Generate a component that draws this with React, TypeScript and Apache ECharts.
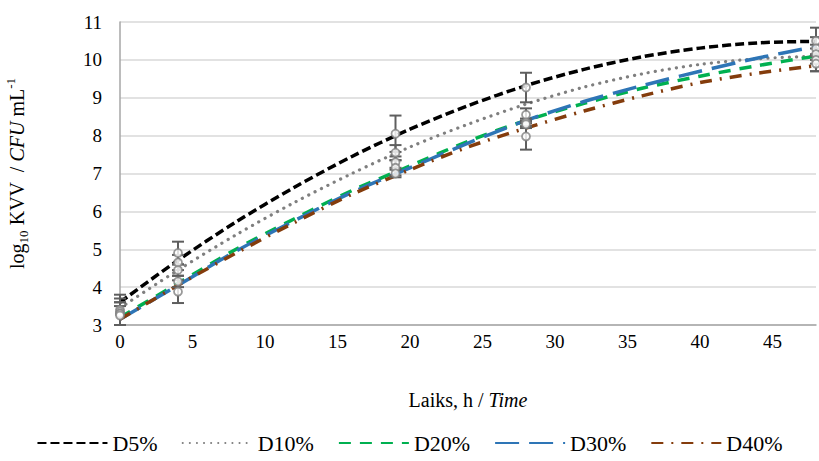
import React, { useEffect, useRef } from 'react';
import * as echarts from 'echarts';

// Fitted growth curves (log10 CFU/mL) sampled along the time axis, hours
const trendTimes = [0, 4, 8, 12, 16, 20, 24, 28, 32, 36, 40, 44, 48];
const trendD5 = [3.6, 4.71, 5.72, 6.63, 7.45, 8.17, 8.79, 9.32, 9.75, 10.08, 10.31, 10.45, 10.49];
const trendD10 = [3.45, 4.45, 5.38, 6.23, 7.0, 7.7, 8.3, 8.83, 9.28, 9.63, 9.88, 10.03, 10.1];
const trendD20 = [3.2, 4.1, 5.0, 5.8, 6.55, 7.2, 7.85, 8.4, 8.85, 9.25, 9.57, 9.85, 10.1];
const trendD30 = [3.15, 4.05, 4.95, 5.75, 6.5, 7.15, 7.8, 8.4, 8.9, 9.32, 9.7, 10.05, 10.35];
const trendD40 = [3.15, 4.05, 4.9, 5.7, 6.45, 7.1, 7.7, 8.2, 8.65, 9.05, 9.4, 9.65, 9.85];

// Measured means and standard deviations at the sampling times
const sampleTimes = [0, 4, 19, 28, 48];
const meanD5 = [3.4, 4.9, 8.05, 9.27, 10.5];
const sdD5 = [0.4, 0.3, 0.48, 0.39, 0.35];
const meanD10 = [3.35, 4.65, 7.55, 8.55, 10.3];
const sdD10 = [0.35, 0.2, 0.2, 0.17, 0.3];
const meanD20 = [3.3, 4.45, 7.3, 8.35, 10.15];
const sdD20 = [0.3, 0.15, 0.15, 0.1, 0.25];
const meanD30 = [3.3, 4.15, 7.15, 8.3, 10.0];
const sdD30 = [0.3, 0.15, 0.2, 0.1, 0.3];
const meanD40 = [3.25, 3.88, 7.0, 7.98, 9.9];
const sdD40 = [0.25, 0.3, 0.1, 0.35, 0.2];

const seriesNames = ['D5%', 'D10%', 'D20%', 'D30%', 'D40%'];
const yTicks = [3, 11];

const FONT = 'Liberation Serif';

const lineStyles = [
  { color: '#000000', width: 3.5, type: [9, 4], cap: 'butt' },
  { color: '#7f7f7f', width: 3.2, type: [0.1, 7], cap: 'round' },
  { color: '#00b050', width: 3.5, type: [12, 9], cap: 'butt' },
  { color: '#2e75b6', width: 3.5, type: [24, 10], cap: 'butt' },
  { color: '#843c0c', width: 3.5, type: [12, 8, 2, 8], cap: 'butt' },
];

export default function App() {
  const ref = useRef<HTMLDivElement>(null);

  useEffect(() => {
    if (!ref.current) return;
    const chart = echarts.init(ref.current, undefined, { renderer: 'svg' });

    const trends = [trendD5, trendD10, trendD20, trendD30, trendD40];
    const means = [meanD5, meanD10, meanD20, meanD30, meanD40];
    const sds = [sdD5, sdD10, sdD20, sdD30, sdD40];

    const lineSeries = seriesNames.map((name, i) => ({
      name,
      type: 'line',
      smooth: 0.3,
      symbol: 'none',
      z: 2,
      lineStyle: lineStyles[i],
      itemStyle: { color: lineStyles[i].color },
      data: trendTimes.map((t, k) => [t, trends[i][k]]),
    }));

    const measured: number[][] = [];
    means.forEach((m, i) =>
      sampleTimes.forEach((t, k) => measured.push([t, m[k], sds[i][k]]))
    );

    const option: any = {
      animation: false,
      backgroundColor: '#ffffff',
      textStyle: { fontFamily: FONT },
      grid: { left: 120, right: 3, top: 22, bottom: 136, outerBoundsMode: 'none', containLabel: false },
      legend: {
        data: seriesNames,
        bottom: 2,
        left: 'center',
        itemWidth: 70,
        itemHeight: 14,
        itemGap: 24,
        itemStyle: { opacity: 0 },
        textStyle: { fontFamily: FONT, fontSize: 22, color: '#000' },
      },
      xAxis: {
        type: 'value',
        min: 0,
        max: 48,
        interval: 5,
        axisLine: { show: true, lineStyle: { color: '#a6a6a6', width: 1.5 } },
        axisTick: { show: false },
        splitLine: { show: false },
        axisLabel: {
          fontFamily: FONT,
          fontSize: 19,
          color: '#000',
          margin: 7,
          formatter: (v: number) => (v % 5 === 0 ? String(v) : ''),
        },
        name: '{n|Laiks, h / }{i|Time}',
        nameLocation: 'middle',
        nameGap: 65,
        nameTextStyle: {
          rich: {
            n: { fontFamily: FONT, fontSize: 20, color: '#000' },
            i: { fontFamily: FONT, fontSize: 20, fontStyle: 'italic', color: '#000' },
          },
        },
      },
      yAxis: {
        type: 'value',
        min: yTicks[0],
        max: yTicks[1],
        interval: 1,
        axisLine: { show: true, lineStyle: { color: '#a6a6a6', width: 1.5 } },
        axisTick: { show: false },
        splitLine: { show: true, lineStyle: { color: '#d9d9d9', width: 1.5 } },
        axisLabel: { fontFamily: FONT, fontSize: 19, color: '#000', margin: 18 },
        name: '{n|log}{sub|10}{n| KVV  / }{i|CFU}{n| mL}{sup|-1}',
        nameLocation: 'middle',
        nameRotate: 90,
        nameGap: 90,
        nameTextStyle: {
          rich: {
            n: { fontFamily: FONT, fontSize: 20, lineHeight: 26, verticalAlign: 'middle', color: '#000' },
            i: { fontFamily: FONT, fontSize: 20, lineHeight: 26, verticalAlign: 'middle', fontStyle: 'italic', color: '#000' },
            sub: { fontFamily: FONT, fontSize: 13, lineHeight: 12, verticalAlign: 'bottom', color: '#000' },
            sup: { fontFamily: FONT, fontSize: 13, lineHeight: 12, verticalAlign: 'top', color: '#000' },
          },
        },
      },
      series: [
        ...lineSeries,
        {
          name: 'sd',
          type: 'custom',
          z: 3,
          data: measured,
          encode: { x: 0, y: 1 },
          renderItem: (_params: any, api: any) => {
            const x = api.value(0);
            const y = api.value(1);
            const e = api.value(2);
            const top = api.coord([x, y + e]);
            const bot = api.coord([x, y - e]);
            const half = 6;
            const style = { stroke: '#5e5e5e', lineWidth: 2, fill: 'none' };
            return {
              type: 'group',
              children: [
                { type: 'line', shape: { x1: top[0], y1: top[1], x2: bot[0], y2: bot[1] }, style },
                { type: 'line', shape: { x1: top[0] - half, y1: top[1], x2: top[0] + half, y2: top[1] }, style },
                { type: 'line', shape: { x1: bot[0] - half, y1: bot[1], x2: bot[0] + half, y2: bot[1] }, style },
              ],
            };
          },
        },
        {
          name: 'mean',
          type: 'scatter',
          z: 4,
          symbol: 'circle',
          symbolSize: 8,
          itemStyle: { color: '#ffffff', borderColor: '#7f7f7f', borderWidth: 1.8 },
          data: measured.map((d) => [d[0], d[1]]),
        },
      ],
    };

    chart.setOption(option);
    return () => chart.dispose();
  }, []);

  return (
    <div
      ref={ref}
      style={{ position: 'fixed', left: 0, top: 0, width: 819, height: 461 }}
    />
  );
}
